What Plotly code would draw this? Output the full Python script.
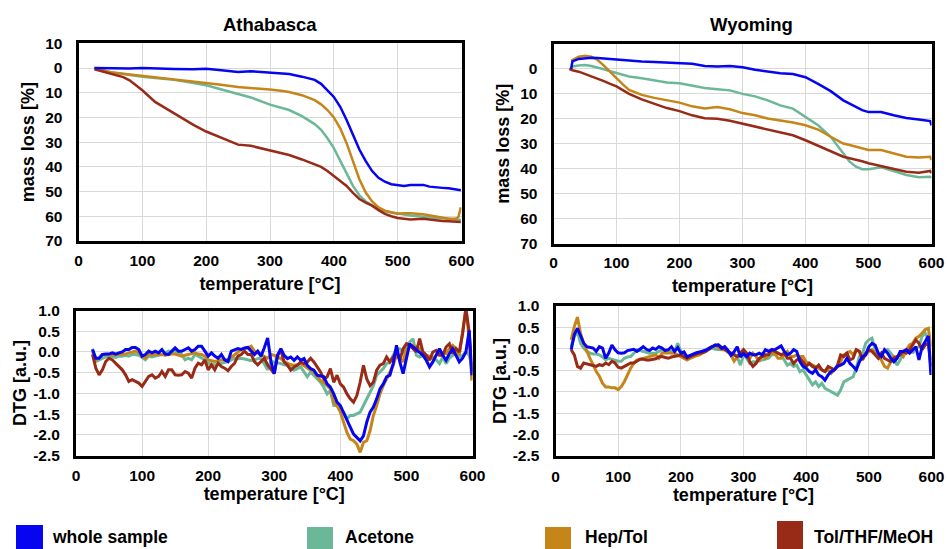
import plotly.graph_objects as go

# ---------------- DATA ----------------
series_names = ["whole sample", "Acetone", "Hep/Tol", "Tol/THF/MeOH"]
series_colors = ["#0505F0", "#6BB898", "#C68518", "#982A18"]

x_ticks = [0, 100, 200, 300, 400, 500, 600]
mass_tickvals = [-10, 0, 10, 20, 30, 40, 50, 60, 70]
mass_ticktext_ath = ["10", "0", "10", "20", "30", "40", "50", "60", "70"]
mass_tickvals_wyo = [0, 10, 20, 30, 40, 50, 60, 70]
mass_ticktext_wyo = ["0", "10", "20", "30", "40", "50", "60", "70"]
dtg_tickvals = [-2.5, -2.0, -1.5, -1.0, -0.5, 0.0, 0.5, 1.0]

# Athabasca mass loss [%]
ath_mass_T = [25, 50, 70, 80, 100, 120, 150, 180, 200, 220, 250, 270, 300, 320, 330, 350, 370, 380, 390, 400,
              410, 420, 430, 440, 450, 460, 470, 480, 490, 500, 510, 520, 540, 550, 560, 570, 580, 590, 595, 599]
ath_mass_whole = [0, 0.1, 0.2, 0.2, 0.0, 0.2, 0.4, 0.5, 0.3, 0.8, 1.6, 1.3, 1.7, 2.2, 2.4, 3.5, 4.8, 6.4, 9.0, 11.7,
                  15.7, 21.0, 27.0, 33.0, 37.7, 41.7, 44.4, 46.0, 47.0, 47.5, 47.7, 47.3, 47.3, 48.0, 48.4, 48.5, 48.7, 49.0, 49.3, 49.5]
ath_mass_acetone = [0, 1.7, 2.4, 2.8, 3.5, 4.0, 4.8, 6.1, 7.0, 8.4, 10.4, 11.9, 14.8, 16.1, 17.0, 19.5, 22.7, 25.0, 28.4, 32.4,
                    37.7, 43.0, 47.7, 51.5, 54.0, 55.7, 57.0, 58.0, 58.5, 59.0, 59.4, 59.7, 60.2, 60.4, 60.6, 60.8, 61.0, 61.2, 61.4, 61.5]
ath_mass_heptol = [0, 1.7, 2.3, 2.6, 3.0, 3.6, 4.4, 5.4, 5.9, 6.7, 7.7, 8.0, 8.7, 9.3, 9.7, 11.0, 13.0, 14.7, 17.0, 20.0,
                   24.4, 30.4, 37.7, 45.0, 50.4, 54.0, 56.4, 57.7, 58.4, 59.0, 58.8, 58.8, 59.2, 59.7, 60.2, 60.7, 61.0, 61.0, 60.4, 56.4]
ath_mass_tol = [0.5, 2.4, 3.7, 5.0, 9.0, 13.7, 18.4, 23.0, 25.7, 27.7, 31.0, 31.5, 33.3, 34.4, 35.2, 37.0, 38.8, 40.0, 41.7, 43.7,
                45.5, 47.7, 50.5, 53.0, 54.5, 55.7, 57.5, 59.0, 60.0, 60.7, 61.0, 61.3, 61.0, 61.4, 61.7, 61.9, 62.0, 62.0, 62.1, 62.3]

# Wyoming mass loss [%]
wyo_mass_T = [25, 28, 30, 40, 50, 60, 70, 80, 90, 100, 110, 120, 140, 160, 180, 200, 220, 240, 260, 280,
              300, 320, 340, 360, 380, 400, 420, 440, 460, 470, 480, 490, 500, 520, 540, 560, 580, 598, 600]
wyo_mass_whole = [None, 0.0, -3.0, -4.0, -4.4, -4.5, -4.4, -4.2, -4.0, -3.7, -3.5, -3.2, -3.0, -2.8, -2.6, -2.4, -2.1, -1.2, -1.0, -1.2,
                  -0.7, 0.3, 1.1, 1.7, 2.0, 3.3, 6.0, 8.9, 12.6, 14.0, 15.3, 16.5, 17.3, 17.3, 18.6, 19.7, 20.3, 20.9, 22.6]
wyo_mass_acetone = [None, 0.0, -1.0, -1.4, -1.6, -1.2, -0.7, 0.1, 0.9, 1.7, 2.4, 3.0, 3.7, 4.6, 5.4, 5.7, 6.6, 7.6, 8.1, 8.6,
                    10.0, 11.0, 12.6, 14.6, 15.9, 19.3, 22.6, 27.2, 33.9, 37.2, 39.2, 40.2, 40.2, 39.4, 40.9, 42.5, 43.4, 43.2, 43.6]
wyo_mass_heptol = [None, -3.3, -3.5, -4.9, -5.3, -4.9, -3.6, -1.3, 1.3, 4.0, 6.2, 8.4, 10.4, 11.6, 12.6, 13.5, 15.0, 15.9, 15.3, 16.2,
                   17.7, 18.6, 19.9, 20.6, 21.5, 22.6, 24.3, 27.2, 29.9, 30.5, 31.2, 32.0, 32.5, 32.5, 33.9, 35.2, 35.5, 35.2, 36.5]
wyo_mass_tol = [0.0, 0.3, 0.5, 1.1, 2.0, 2.9, 3.9, 4.9, 6.0, 7.0, 8.5, 10.0, 12.2, 13.9, 15.7, 16.9, 18.6, 19.8, 20.0, 20.8,
                21.9, 23.0, 24.3, 25.2, 26.6, 28.6, 30.9, 33.2, 35.2, 35.8, 36.3, 37.0, 37.8, 38.9, 39.8, 41.2, 41.6, 40.9, 41.8]

# DTG [a.u.] sampled every 5 °C (25..595) plus end point
dtg_T = [25, 30, 35, 40, 45, 50, 55, 60, 65, 70,
         75, 80, 85, 90, 95, 100, 105, 110, 115, 120,
         125, 130, 135, 140, 145, 150, 155, 160, 165, 170,
         175, 180, 185, 190, 195, 200, 205, 210, 215, 220,
         225, 230, 235, 240, 245, 250, 255, 260, 265, 270,
         275, 280, 285, 290, 295, 300, 305, 310, 315, 320,
         325, 330, 335, 340, 345, 350, 355, 360, 365, 370,
         375, 380, 385, 390, 395, 400, 405, 410, 415, 420,
         425, 430, 435, 440, 445, 450, 455, 460, 465, 470,
         475, 480, 485, 490, 495, 500, 505, 510, 515, 520,
         525, 530, 535, 540, 545, 550, 555, 560, 565, 570,
         575, 580, 585, 590, 595, 599]

ath_dtg_whole = [0.06, -0.15, -0.15, -0.06, -0.05, -0.05, -0.02, -0.05, -0.02, 0.00,
                 0.06, 0.06, 0.11, 0.11, 0.06, -0.10, -0.06, 0.02, -0.02, 0.02,
                 -0.02, 0.06, -0.05, -0.06, 0.02, 0.10, 0.02, 0.02, 0.06, 0.10,
                 0.02, 0.06, 0.14, 0.14, 0.02, -0.10, -0.02, -0.10, -0.15, -0.06,
                 -0.19, -0.23, 0.02, 0.06, 0.08, 0.06, 0.10, 0.11, 0.03, -0.06,
                 0.02, -0.10, 0.10, 0.34, -0.23, -0.52, -0.08, 0.08, -0.08, -0.16,
                 -0.12, -0.20, -0.12, -0.20, -0.16, -0.32, -0.40, -0.44, -0.56, -0.58,
                 -0.60, -0.77, -0.85, -1.01, -1.21, -1.29, -1.45, -1.65, -1.81, -1.98,
                 -2.06, -2.14, -2.02, -1.69, -1.45, -1.33, -1.13, -0.89, -0.77, -0.60,
                 -0.56, -0.28, 0.16, -0.24, -0.52, -0.12, 0.20, 0.12, 0.06, 0.00,
                 -0.08, -0.20, -0.36, -0.24, -0.08, 0.08, -0.08, -0.20, -0.04, 0.08,
                 -0.08, -0.24, -0.15, 0.00, 0.52, -0.56]
ath_dtg_acetone = [0.08, -0.23, -0.19, -0.15, -0.12, -0.10, -0.12, -0.13, -0.10, -0.10,
                   -0.08, -0.10, -0.06, -0.06, -0.08, -0.13, -0.19, -0.10, -0.12, -0.10,
                   -0.08, -0.06, -0.02, 0.02, 0.00, 0.02, -0.02, -0.06, -0.19, -0.15,
                   -0.19, -0.06, -0.10, -0.15, -0.19, -0.27, -0.29, -0.31, -0.29, -0.27,
                   -0.24, -0.23, -0.19, -0.15, -0.16, -0.15, -0.17, -0.19, -0.21, -0.19,
                   -0.16, -0.15, -0.31, -0.43, -0.23, -0.24, -0.26, -0.28, -0.31, -0.32,
                   -0.39, -0.44, -0.40, -0.36, -0.48, -0.60, -0.48, -0.56, -0.65, -0.73,
                   -0.85, -1.01, -0.93, -1.29, -1.29, -1.37, -1.45, -1.61, -1.53, -1.53,
                   -1.49, -1.45, -1.29, -1.13, -0.97, -0.81, -0.56, -0.48, -0.40, -0.28,
                   -0.24, -0.08, 0.08, 0.08, 0.00, 0.16, 0.24, 0.32, -0.08, -0.12,
                   -0.08, -0.08, -0.12, -0.16, -0.19, -0.28, -0.12, -0.28, -0.15, -0.08,
                   -0.04, -0.12, -0.08, 0.00, -0.08, -0.32]
ath_dtg_heptol = [0.02, -0.19, -0.15, -0.06, -0.06, -0.06, -0.08, -0.06, -0.06, -0.06,
                  -0.05, -0.02, 0.00, 0.02, -0.02, -0.10, -0.15, -0.06, -0.08, -0.06,
                  -0.06, -0.06, -0.08, -0.06, -0.05, -0.05, -0.08, -0.10, -0.08, -0.06,
                  -0.05, -0.02, -0.05, -0.06, -0.10, -0.19, -0.21, -0.23, -0.21, -0.19,
                  -0.19, -0.19, -0.13, -0.06, 0.00, 0.06, 0.08, 0.10, 0.14, 0.02,
                  -0.02, -0.06, -0.10, -0.15, -0.06, -0.08, -0.12, -0.16, -0.23, -0.28,
                  -0.31, -0.32, -0.31, -0.28, -0.34, -0.40, -0.44, -0.48, -0.58, -0.69,
                  -0.74, -0.81, -0.89, -1.21, -1.29, -1.45, -1.69, -1.94, -2.10, -2.14,
                  -2.22, -2.42, -2.18, -2.14, -1.90, -1.53, -1.29, -1.01, -0.81, -0.65,
                  -0.48, -0.32, -0.08, -0.16, -0.24, 0.08, 0.12, 0.16, 0.12, 0.08,
                  0.00, -0.08, -0.12, -0.16, -0.08, 0.00, -0.02, -0.04, 0.08, 0.16,
                  0.08, -0.08, 0.48, 1.05, 0.32, -0.69]
ath_dtg_tol = [-0.06, -0.39, -0.55, -0.43, -0.23, -0.15, -0.19, -0.27, -0.35, -0.43,
               -0.55, -0.71, -0.67, -0.71, -0.75, -0.83, -0.71, -0.59, -0.55, -0.63,
               -0.59, -0.47, -0.59, -0.43, -0.43, -0.55, -0.56, -0.55, -0.47, -0.51,
               -0.63, -0.39, -0.27, -0.31, -0.19, -0.43, -0.31, -0.43, -0.27, -0.35,
               -0.39, -0.45, -0.35, -0.27, -0.10, -0.06, 0.02, -0.06, -0.06, -0.23,
               -0.31, -0.23, -0.15, -0.31, -0.43, -0.52, -0.08, 0.04, -0.24, -0.32,
               -0.44, -0.36, -0.32, -0.24, -0.28, -0.24, -0.15, -0.24, -0.36, -0.48,
               -0.65, -0.60, -0.40, -0.73, -0.56, -0.77, -0.85, -1.01, -1.13, -1.21,
               -1.05, -0.73, -0.32, -0.65, -0.81, -0.73, -0.44, -0.32, -0.28, -0.12,
               -0.24, -0.12, 0.00, -0.20, 0.08, 0.20, 0.16, 0.08, 0.00, 0.32,
               0.00, -0.08, -0.20, 0.00, 0.04, -0.08, -0.08, 0.12, 0.20, -0.04,
               0.08, 0.00, 0.44, 1.05, 0.48, -0.48]

wyo_dtg_whole = [-0.02, 0.33, 0.48, 0.29, 0.13, 0.05, 0.03, 0.02, -0.06, 0.05,
                 0.02, -0.22, -0.10, 0.09, -0.02, -0.09, -0.10, -0.09, -0.04, -0.02,
                 -0.01, -0.06, -0.01, 0.05, -0.01, -0.04, 0.02, -0.01, 0.05, 0.02,
                 -0.04, -0.02, 0.05, -0.06, 0.03, -0.10, -0.07, -0.19, -0.15, -0.11,
                 -0.09, -0.07, -0.05, -0.03, 0.01, 0.05, 0.09, 0.09, 0.01, 0.05,
                 -0.03, -0.15, -0.07, 0.05, -0.19, -0.11, -0.18, -0.10, -0.14, -0.14,
                 -0.10, -0.14, -0.02, -0.06, -0.02, -0.02, 0.02, 0.07, -0.06, -0.14,
                 -0.10, -0.02, -0.06, -0.30, -0.41, -0.45, -0.53, -0.57, -0.49, -0.61,
                 -0.65, -0.73, -0.61, -0.53, -0.49, -0.41, -0.38, -0.34, -0.22, -0.34,
                 -0.41, -0.49, -0.30, -0.18, -0.14, 0.05, 0.13, 0.09, -0.10, -0.18,
                 -0.02, -0.10, -0.22, -0.30, -0.22, -0.06, -0.06, -0.02, -0.10, -0.02,
                 0.05, -0.26, 0.05, 0.17, 0.30, -0.61]
wyo_dtg_acetone = [0.05, 0.29, 0.40, 0.13, 0.02, -0.06, -0.10, -0.12, -0.12, -0.14,
                   -0.19, -0.26, -0.22, -0.24, -0.26, -0.29, -0.29, -0.22, -0.19, -0.18,
                   -0.10, -0.02, -0.04, -0.06, -0.09, -0.10, -0.10, -0.10, -0.06, -0.02,
                   -0.04, -0.06, -0.06, -0.06, 0.13, -0.06, -0.14, -0.18, -0.16, -0.14,
                   -0.12, -0.10, -0.06, -0.02, -0.01, 0.02, -0.01, -0.02, -0.02, -0.02,
                   -0.06, -0.10, -0.12, -0.19, -0.38, -0.15, -0.22, -0.34, -0.30, -0.30,
                   -0.26, -0.26, -0.24, -0.22, -0.14, -0.14, -0.10, -0.14, -0.26, -0.38,
                   -0.34, -0.41, -0.38, -0.53, -0.49, -0.61, -0.73, -0.84, -0.77, -0.88,
                   -0.80, -0.92, -0.96, -1.00, -1.04, -1.08, -0.96, -0.77, -0.73, -0.69,
                   -0.65, -0.45, -0.18, -0.10, 0.13, 0.21, 0.25, -0.02, -0.10, -0.14,
                   -0.06, -0.02, -0.10, -0.22, -0.38, -0.26, -0.10, -0.02, 0.05, -0.10,
                   0.02, 0.05, 0.29, 0.37, 0.21, -0.26]
wyo_dtg_heptol = [0.21, 0.52, 0.74, 0.36, 0.13, -0.06, -0.22, -0.37, -0.53, -0.64,
                  -0.80, -0.89, -0.89, -0.91, -0.91, -0.95, -0.88, -0.76, -0.60, -0.45,
                  -0.33, -0.26, -0.24, -0.22, -0.19, -0.18, -0.16, -0.14, -0.22, -0.10,
                  -0.09, -0.09, -0.10, -0.10, -0.14, -0.18, -0.22, -0.26, -0.22, -0.18,
                  -0.16, -0.14, -0.09, -0.02, 0.02, 0.05, 0.09, 0.02, -0.01, -0.02,
                  -0.09, -0.14, -0.29, -0.18, -0.10, -0.02, -0.14, -0.22, -0.10, -0.18,
                  -0.30, -0.10, -0.22, -0.14, -0.10, -0.10, -0.22, -0.22, -0.14, -0.06,
                  -0.18, -0.18, -0.14, -0.18, -0.18, -0.30, -0.34, -0.38, -0.41, -0.45,
                  -0.49, -0.53, -0.49, -0.57, -0.49, -0.41, -0.30, -0.14, -0.10, -0.06,
                  -0.14, -0.02, -0.06, -0.22, -0.14, -0.06, -0.02, -0.10, -0.18, -0.26,
                  -0.41, -0.45, -0.30, -0.18, -0.22, -0.10, -0.18, -0.02, 0.09, 0.13,
                  0.25, 0.29, 0.37, 0.45, 0.48, 0.05]
wyo_dtg_tol = [-0.02, -0.14, -0.41, -0.45, -0.33, -0.35, -0.37, -0.40, -0.41, -0.37,
               -0.39, -0.33, -0.37, -0.29, -0.33, -0.43, -0.45, -0.41, -0.37, -0.33,
               -0.33, -0.28, -0.24, -0.24, -0.26, -0.26, -0.24, -0.23, -0.19, -0.18,
               -0.20, -0.22, -0.19, -0.18, -0.16, -0.14, -0.18, -0.22, -0.18, -0.14,
               -0.12, -0.10, -0.09, -0.06, -0.01, 0.05, 0.07, 0.09, 0.04, -0.02,
               -0.06, -0.10, -0.14, -0.18, -0.10, -0.02, -0.10, -0.30, -0.41, -0.34,
               -0.22, -0.18, -0.14, -0.14, -0.02, -0.06, -0.10, -0.14, -0.10, -0.22,
               -0.22, -0.34, -0.26, -0.22, -0.30, -0.41, -0.34, -0.41, -0.45, -0.38,
               -0.49, -0.53, -0.41, -0.45, -0.49, -0.38, -0.14, -0.18, -0.10, -0.26,
               -0.22, -0.02, -0.06, -0.26, -0.10, -0.02, -0.06, -0.14, -0.22, -0.10,
               -0.22, -0.26, -0.30, -0.22, -0.18, -0.14, -0.06, -0.10, -0.02, 0.09,
               0.21, 0.13, -0.02, 0.09, 0.13, -0.41]

# ---------------- FIGURE ----------------
W, H = 947, 549
FONT = "Liberation Sans, Arial, sans-serif"


def fx(p):
    return p / W


def fy(p):
    return 1 - p / H


fig = go.Figure()

panels = [
    ("x", "y", ath_mass_T, [ath_mass_whole, ath_mass_acetone, ath_mass_heptol, ath_mass_tol], 2.5),
    ("x2", "y2", wyo_mass_T, [wyo_mass_whole, wyo_mass_acetone, wyo_mass_heptol, wyo_mass_tol], 2.5),
    ("x3", "y3", dtg_T, [ath_dtg_whole, ath_dtg_acetone, ath_dtg_heptol, ath_dtg_tol], 3),
    ("x4", "y4", dtg_T, [wyo_dtg_whole, wyo_dtg_acetone, wyo_dtg_heptol, wyo_dtg_tol], 3),
]
draw_order = [1, 2, 3, 0]  # blue on top
for xa, ya, T, ys, lw in panels:
    for i in draw_order:
        fig.add_trace(go.Scatter(
            x=T, y=ys[i], mode="lines", name=series_names[i],
            line=dict(color=series_colors[i], width=lw),
            xaxis=xa, yaxis=ya, showlegend=False, connectgaps=False,
        ))

tick_font = dict(family=FONT, size=15.5, color="black", weight="bold")
title_font = dict(family=FONT, size=18, color="black", weight="bold")
grid = "#d9d9d9"


def xaxis(domain, anchor, ticklen, standoff_title):
    return dict(domain=domain, anchor=anchor, range=[0, 600], tickvals=x_ticks,
                showgrid=True, gridcolor=grid, gridwidth=1, zeroline=False,
                showline=True, mirror=True, linecolor="black", linewidth=3,
                ticks="outside", ticklen=ticklen, tickcolor="rgba(0,0,0,0)",
                tickfont=tick_font, automargin=False,
                title=dict(text="temperature [°C]", font=title_font, standoff=standoff_title))


def yaxis(domain, anchor, rng, tv, tt, title, ticklen, standoff_title):
    return dict(domain=domain, anchor=anchor, range=rng, tickvals=tv, ticktext=tt,
                showgrid=True, gridcolor=grid, gridwidth=1, zeroline=False,
                showline=True, mirror=True, linecolor="black", linewidth=3,
                ticks="outside", ticklen=ticklen, tickcolor="rgba(0,0,0,0)",
                tickfont=tick_font, automargin=False,
                title=dict(text=title, font=title_font, standoff=standoff_title))


dtg_text = ["%.1f" % v for v in dtg_tickvals]

fig.update_layout(
    width=W, height=H, margin=dict(l=0, r=0, t=0, b=0, pad=0, autoexpand=False),
    paper_bgcolor="white", plot_bgcolor="white",
    font=dict(family=FONT, color="black"),
    xaxis=xaxis([fx(78.5), fx(461.5)], "y", 3, 10),
    yaxis=yaxis([fy(241), fy(43.3)], "x", [70, -10], mass_tickvals, mass_ticktext_ath, "mass loss [%]", 10, 6),
    xaxis2=xaxis([fx(553.5), fx(931.5)], "y2", 3, 10),
    yaxis2=yaxis([fy(243.5), fy(44)], "x2", [70, -10], mass_tickvals_wyo, mass_ticktext_wyo, "mass loss [%]", 10, 6),
    xaxis3=xaxis([fx(76), fx(472.5)], "y3", 4, 0),
    yaxis3=yaxis([fy(455.7), fy(310.5)], "x3", [-2.5, 1.0], dtg_tickvals, dtg_text, "DTG [a.u.]", 10, 2),
    xaxis4=xaxis([fx(555.5), fx(931.5)], "y4", 4, 0),
    yaxis4=yaxis([fy(456), fy(306)], "x4", [-2.5, 1.0], dtg_tickvals, dtg_text, "DTG [a.u.]", 10, 2),
    showlegend=False,
)

# panel titles
for txt, xc in [("Athabasca", 270), ("Wyoming", 751)]:
    fig.add_annotation(text=txt, x=fx(xc), y=fy(25), xref="paper", yref="paper",
                       showarrow=False, xanchor="center", yanchor="middle",
                       font=dict(family=FONT, size=18.5, color="black", weight="bold"))

# legend keys (drawn at bottom like the original)
legend_pos = [(16, 43, 525, 50), (307, 333, 527, 343), (545, 571, 527, 583), (777, 803, 521, 812)]
for i, (x0, x1, y0, tx) in enumerate(legend_pos):
    fig.add_shape(type="rect", xref="paper", yref="paper",
                  x0=fx(x0), x1=fx(x1), y0=fy(549), y1=fy(y0),
                  fillcolor=series_colors[i], line=dict(width=0))
    fig.add_annotation(text=series_names[i], x=fx(tx), y=fy(537), xref="paper", yref="paper",
                       showarrow=False, xanchor="left", yanchor="middle",
                       font=dict(family=FONT, size=17.5, color="black", weight="bold"))

fig.write_html("out.html")
